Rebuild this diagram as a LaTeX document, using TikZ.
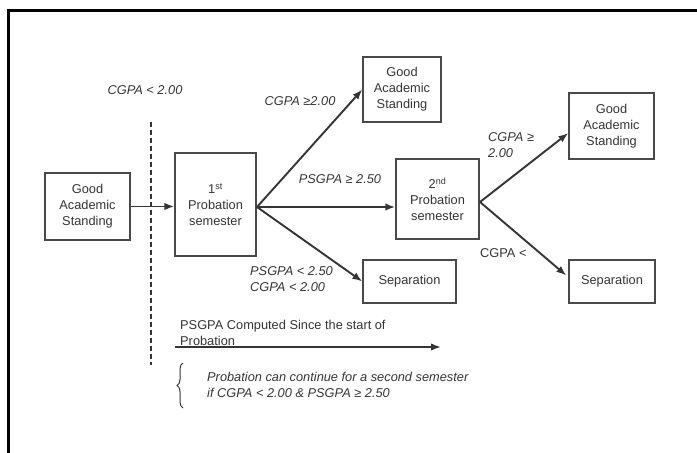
\documentclass[tikz,border=0pt]{standalone}
\usepackage{fontspec}
\setmainfont{Liberation Sans}
\usetikzlibrary{arrows.meta,decorations.pathreplacing,calc}
\definecolor{ink}{HTML}{353535}
\tikzset{
  box/.style={draw=ink!90, line width=1.3pt, rectangle, align=center, inner sep=0pt,
    font=\fontsize{12.8}{16}\selectfont, text=ink},
  lbl/.style={font=\fontsize{12.8}{16}\selectfont\itshape, text=ink, inner sep=0pt},
  lblup/.style={font=\fontsize{12.8}{16}\selectfont, text=ink, inner sep=0pt},
  arr/.style={draw=ink, line width=1.9pt, -{Latex[length=10pt,width=7.5pt]}},
}
\begin{document}
\begin{tikzpicture}[x=1pt,y=-1pt]
\useasboundingbox (0,0) rectangle (697,453);
\fill[white] (0,0) rectangle (697,453);
% frame (top and left edges)
\draw[line width=3pt,black] (8,453) -- (8,10.5) -- (697,10.5);

% boxes
\node[box, minimum width=85pt, minimum height=67pt] (gas1) at (87.5,206.5) {Good\\Academic\\Standing};
\node[box, minimum width=81pt, minimum height=103pt] (p1) at (215.5,204.5) {1\textsuperscript{st}\\Probation\\semester};
\node[box, minimum width=78pt, minimum height=65pt] (gas2) at (402,89.5) {Good\\Academic\\Standing};
\node[box, minimum width=83pt, minimum height=80pt] (p2) at (437.5,199) {2\textsuperscript{nd}\\Probation\\semester};
\node[box, minimum width=85pt, minimum height=66pt] (gas3) at (611.5,126) {Good\\Academic\\Standing};
\node[box, minimum width=93pt, minimum height=43pt] (sep1) at (409.5,281.5) {Separation};
\node[box, minimum width=86pt, minimum height=43pt] (sep2) at (612,281.5) {Separation};

% dashed threshold line
\coordinate (dtop) at (151,122);
\coordinate (dbot) at (151,365);
\draw[ink, line width=1.5pt, dash pattern=on 5pt off 3pt] (dtop) -- (dbot);

% labels
\node[lbl] (l0) at (145,90) {CGPA < 2.00};
\node[lbl] (l1) at (300,101) {CGPA ≥2.00};
\node[lbl] (l2) at (340,179) {PSGPA ≥ 2.50};
\node[lbl, anchor=west, align=left] (l3) at (488,145) {CGPA ≥\\2.00};
\node[lblup, anchor=west] (l4) at (480,253) {CGPA <};
\node[lbl, anchor=west, align=left] (l5) at (250,279.5) {PSGPA < 2.50\\CGPA < 2.00};
\node[lblup, anchor=west, align=left] (l6) at (180,333) {PSGPA Computed Since the start of\\Probation};
\node[lbl, anchor=west, align=left] (l7) at (207,384.5) {Probation can continue for a second semester\\if CGPA < 2.00 \& PSGPA ≥ 2.50};

% connectors
\draw[arr] (gas1.east) -- (p1.west |- gas1.east);
\coordinate (p1out) at (257,207);
\draw[arr] (p1out) -- (gas2.west);
\draw[arr] (p1out) -- (p2.west |- p1out);
\draw[arr] (p1out) -- (sep1.west);
\coordinate (p2out) at (480,202);
\draw[arr] (p2out) -- ($(gas3.west)+(0,7)$);
\draw[arr] (p2out) -- ($(sep2.west)+(-2,-6)$);

% time arrow
\coordinate (ta) at (175,347);
\coordinate (tb) at (441,347);
\draw[arr] (ta) -- (tb);

% brace
\coordinate (ba) at (183,408);
\coordinate (bb) at (183,363);
\draw[ink, line width=1pt, decorate, decoration={brace, amplitude=6pt}] (ba) -- (bb);
\end{tikzpicture}
\end{document}
